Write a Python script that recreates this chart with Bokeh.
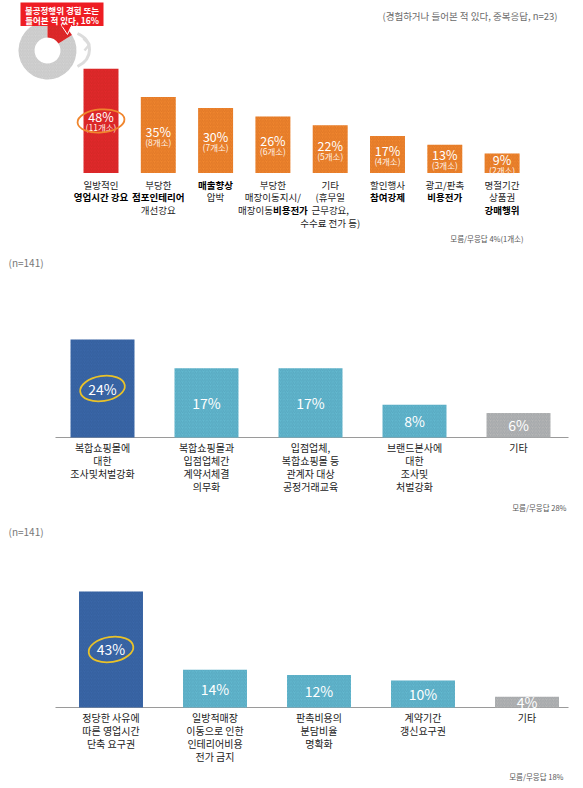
import numpy as np
from bokeh.plotting import figure
from bokeh.layouts import column
from bokeh.models import Range1d, ColumnDataSource
from bokeh.core.properties import value
from bokeh.embed import file_html
from bokeh.resources import INLINE

FONT = "Noto Sans CJK KR"
W = 572
OFF = 0  # page offset of the figures (observed)

# ---------------- data ----------------
donut_share = [16, 84]
donut_title = ["불공정행위 경험 또는", "들어본 적 있다, 16%"]
top_note = "(경험하거나 들어본 적 있다, 중복응답, n=23)"
top_pct = [48, 35, 30, 26, 22, 17, 13, 9]
top_cnt = ["(11개소)", "(8개소)", "(7개소)", "(6개소)", "(5개소)", "(4개소)", "(3개소)", "(2개소)"]
# *...* marks bold text
top_labels = [
    ["일방적인", "*영업시간 강요*"],
    ["부당한", "*점포인테리어*", "개선강요"],
    ["*매출향상*", "압박"],
    ["부당한", "매장이동지시/", "매장이동*비용전가*"],
    ["기타", "(휴무일", "근무강요,", "수수료 전가 등)"],
    ["할인행사", "*참여강제*"],
    ["광고/판촉", "*비용전가*"],
    ["명절기간", "상품권", "*강매행위*"],
]
top_foot = "모름/무응답 4%(1개소)"

mid_n = "(n=141)"
mid_pct = [24, 17, 17, 8, 6]
mid_labels = [
    ["복합쇼핑몰에", "대한", "조사및처벌강화"],
    ["복합쇼핑몰과", "입점업체간", "계약서체결", "의무화"],
    ["입점업체,", "복합쇼핑몰 등", "관계자 대상", "공정거래교육"],
    ["브랜드본사에", "대한", "조사및", "처벌강화"],
    ["기타"],
]
mid_foot = "모름/무응답 28%"

bot_n = "(n=141)"
bot_pct = [43, 14, 12, 10, 4]
bot_labels = [
    ["정당한 사유에", "따른 영업시간", "단축 요구권"],
    ["일방적매장", "이동으로 인한", "인테리어비용", "전가 금지"],
    ["판촉비용의", "분담비율", "명확화"],
    ["계약기간", "갱신요구권"],
    ["기타"],
]
bot_foot = "모름/무응답 18%"

RED = "#E2282C"
ORANGE = "#F0862E"
DBLUE = "#3A66A8"
LBLUE = "#62B8CF"
GREY = "#B6B6B6"
CALLOUT = "#EE1D23"


def make_fig(top_img, h, x0_img, step_px, base_img, unit_px):
    x0 = x0_img - OFF
    base = base_img - top_img
    xs = -x0 / step_px
    xe = xs + W / step_px
    ye = base / unit_px
    ys = -(h - base) / unit_px
    p = figure(width=W, height=h, x_range=Range1d(xs, xe), y_range=Range1d(ys, ye),
               output_backend="svg", toolbar_location=None, min_border=0,
               x_axis_location=None, y_axis_location=None)
    p.xgrid.visible = False
    p.ygrid.visible = False
    p.outline_line_color = None
    p.background_fill_color = "white"
    p.border_fill_color = "white"

    def px(X):
        return xs + (X - OFF) / step_px

    def py(Y):
        return (base - (Y - top_img)) / unit_px

    return p, px, py


def parse(line):
    parts = line.split("*")
    segs = []
    for k, s in enumerate(parts):
        if s:
            segs.append((s, k % 2 == 1))
    return segs


def est_w(s, fs):
    w = 0
    for ch in s:
        if ch == " ":
            w += 0.3 * fs
        elif ord(ch) > 0x1100:
            w += 0.95 * fs
        else:
            w += 0.55 * fs
    return w


def draw_labels(p, labels, fs, off0, lh):
    groups = {}
    for i, lab in enumerate(labels):
        for k, line in enumerate(lab):
            segs = parse(line)
            off = off0 + k * lh
            if len(segs) == 1:
                s, b = segs[0]
                groups.setdefault((b, "center"), []).append((i, off, 0.0, s))
            else:
                (s1, b1), (s2, b2) = segs[0], segs[1]
                bnd = (est_w(s1, fs) - est_w(s2, fs)) / 2
                groups.setdefault((b1, "right"), []).append((i, off, bnd, s1))
                groups.setdefault((b2, "left"), []).append((i, off, bnd, s2))
    for (bold, align), rows in groups.items():
        src = ColumnDataSource(dict(x=[r[0] for r in rows], y=[0] * len(rows),
                                    yo=[r[1] for r in rows], xo=[r[2] for r in rows],
                                    t=[r[3] for r in rows]))
        p.text(x="x", y="y", text="t", x_offset="xo", y_offset="yo", source=src,
               text_font=value(FONT), text_font_size=f"{fs}px",
               text_font_style="bold" if bold else "normal",
               text_color="#000000" if bold else "#222222",
               text_align=align, text_baseline="middle")


HATCH = dict(hatch_pattern="/", hatch_scale=3.5, hatch_weight=0.6)

# ---------------- top chart ----------------
p1, px1, py1 = make_fig(0, 252, 100.5, 57.3, 172.5, 2.17)
idx1 = list(range(len(top_pct)))
cols1 = [RED] + [ORANGE] * (len(top_pct) - 1)
p1.vbar(x=idx1, top=top_pct, bottom=0, width=0.61, fill_color=cols1, line_color=None,
        hatch_color="#7a2000", hatch_alpha=0.25, **HATCH)
p1.text(x=idx1, y=[v / 2 for v in top_pct], text=[f"{v}%" for v in top_pct], y_offset=-4,
        text_font=value(FONT), text_font_size="12.5px", text_color="white",
        text_align="center", text_baseline="middle")
p1.text(x=idx1, y=[v / 2 for v in top_pct], text=top_cnt, y_offset=6.5,
        text_font=value(FONT), text_font_size="8.5px", text_color="#fff4ea",
        text_align="center", text_baseline="middle")
p1.ellipse(x=[0], y=[top_pct[0] / 2], width=47, height=23, width_units="screen",
           height_units="screen", angle=0.08, fill_color=None, line_color=ORANGE, line_width=1.8)
draw_labels(p1, top_labels, 9.5, 11.5, 12.8)

# donut
dcx, dcy = px1(47), py1(50)
a_red = 2 * np.pi * donut_share[0] / sum(donut_share)
p1.annular_wedge(x=[dcx], y=[dcy], inner_radius=13, outer_radius=29,
                 inner_radius_units="screen", outer_radius_units="screen",
                 start_angle=[np.pi / 2], end_angle=[np.pi / 2 - a_red], direction="anticlock",
                 fill_color="#D2D2D2", line_color=None, hatch_color="#a8a8a8", hatch_alpha=0.4, **HATCH)
p1.annular_wedge(x=[dcx], y=[dcy], inner_radius=13, outer_radius=29,
                 inner_radius_units="screen", outer_radius_units="screen",
                 start_angle=[np.pi / 2 - a_red], end_angle=[np.pi / 2], direction="anticlock",
                 fill_color=RED, line_color=None, hatch_color="#7a2000", hatch_alpha=0.25, **HATCH)
# curved arrow
p1.bezier(x0=[px1(77)], y0=[py1(33)], x1=[px1(77)], y1=[py1(66)], cx0=[px1(93)], cy0=[py1(40)],
          cx1=[px1(93)], cy1=[py1(58)], line_color="#DCDCDC", line_width=3)
p1.line(x=[px1(83), px1(89), px1(84)], y=[py1(38), py1(44), py1(50)], line_color="#DCDCDC", line_width=2.5)
# callout
p1.quad(left=[px1(20)], right=[px1(103)], top=[py1(2)], bottom=[py1(25.5)], fill_color=CALLOUT, line_color=None)
p1.patch(x=[px1(61), px1(71), px1(67)], y=[py1(25), py1(25), py1(34)], fill_color=CALLOUT,
         line_color="white", line_width=1)
p1.quad(left=[px1(61.5)], right=[px1(70.5)], top=[py1(23.5)], bottom=[py1(26)], fill_color=CALLOUT, line_color=None)
p1.text(x=[px1(61.5)] * 2, y=[py1(9), py1(19.5)], text=donut_title, text_font=value(FONT),
        text_font_size="8.5px", text_font_style="bold", text_color="white",
        text_align="center", text_baseline="middle")
p1.text(x=[px1(557)], y=[py1(15)], text=[top_note], text_font=value(FONT), text_font_size="9.5px",
        text_color="#6a6a6a", text_align="right", text_baseline="middle")
p1.text(x=[px1(523)], y=[py1(238)], text=[top_foot], text_font=value(FONT), text_font_size="7.5px",
        text_color="#555555", text_align="right", text_baseline="middle")


# ---------------- lower charts ----------------
def lower_chart(top_img, h, x0_img, base_img, unit_px, pct, labels, ntext, ny_img, foot, foot_y_img, foot_x_img, circ_angle):
    p, px, py = make_fig(top_img, h, x0_img, 104, base_img, unit_px)
    idx = list(range(len(pct)))
    cols = [DBLUE] + [LBLUE] * (len(pct) - 2) + [GREY]
    p.segment(x0=[px(55)], x1=[px(568)], y0=[0], y1=[0], line_color="#9a9a9a", line_width=1.2)
    p.vbar(x=idx, top=pct, bottom=0, width=0.615, fill_color=cols, line_color=None,
           hatch_color="#0a2a4a", hatch_alpha=0.2, **HATCH)
    p.text(x=idx, y=[v / 2 for v in pct], text=[f"{v}%" for v in pct], text_font=value(FONT),
           text_font_size="14px", text_color="white", text_align="center", text_baseline="middle")
    p.ellipse(x=[0], y=[pct[0] / 2], width=45, height=25, width_units="screen", height_units="screen",
              angle=circ_angle, fill_color=None, line_color="#E9C229", line_width=1.8)
    draw_labels(p, labels, 10, 10, 13)
    p.text(x=[px(8)], y=[py(ny_img)], text=[ntext], text_font=value(FONT), text_font_size="10px",
           text_color="#777777", text_align="left", text_baseline="middle")
    p.text(x=[px(foot_x_img)], y=[py(foot_y_img)], text=[foot], text_font=value(FONT), text_font_size="7.5px",
           text_color="#555555", text_align="right", text_baseline="middle")
    return p


p2 = lower_chart(252, 265, 102, 437, 4.08, mid_pct, mid_labels, mid_n, 262, mid_foot, 507, 566, 0.15)
p3 = lower_chart(517, 269, 110.5, 707, 2.70, bot_pct, bot_labels, bot_n, 531, bot_foot, 776, 563, 0.15)

layout = column(p1, p2, p3, spacing=0)
open("out.html", "w").write(file_html(layout, INLINE))
